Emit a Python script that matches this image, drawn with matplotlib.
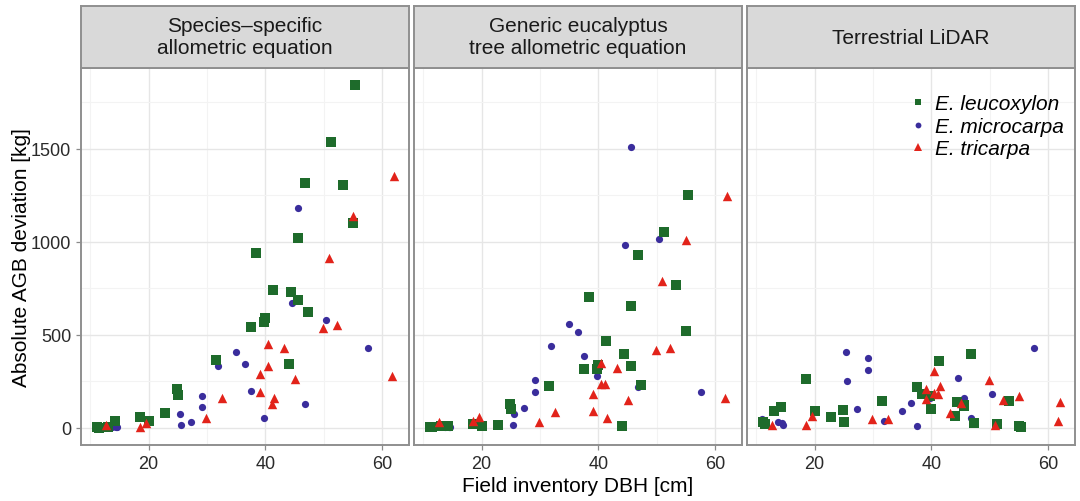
import numpy as np
import matplotlib
matplotlib.use('Agg')
import matplotlib.pyplot as plt
from matplotlib.lines import Line2D

plt.rcParams['font.family'] = ['Liberation Sans', 'DejaVu Sans']

# field inventory DBH [cm] per tree, per species
leuco_dbh = [55.3, 51.2, 46.7, 53.2, 55.0, 45.5, 38.3, 41.3, 44.3, 45.6, 47.3, 40.0, 39.8,
             37.6, 31.6, 44.1, 24.8, 25.0, 22.9, 18.5, 20.0, 14.3, 11.2, 11.5, 13.0]
micro_dbh = [45.6, 44.6, 50.4, 57.5, 35.0, 36.5, 31.8, 37.5, 29.1, 29.1, 46.8, 25.3, 25.6,
             27.3, 39.7, 14.6, 11.0, 11.1, 13.8, 14.4]
tri_dbh = [62.0, 55.0, 50.8, 49.9, 52.2, 40.4, 43.1, 40.5, 39.1, 45.1, 61.7, 39.0, 32.6,
           41.4, 41.2, 29.9, 18.5, 19.6, 12.8]

# absolute AGB deviation [kg]
leuco_species = [1843, 1539, 1316, 1307, 1102, 1023, 941, 743, 732, 690, 622, 589, 569,
                 543, 363, 342, 207, 179, 82, 59, 37, 37, 4, 0, 5]
leuco_generic = [1254, 1052, 932, 769, 521, 658, 704, 465, 395, 332, 229, 338, 317,
                 317, 223, 11, 131, 101, 18, 21, 11, 10, 4, 2, 8]
leuco_lidar = [5, 21, 395, 143, 8, 124, 182, 357, 141, 118, 27, 103, 173,
               218, 142, 63, 98, 30, 57, 264, 93, 114, 34, 20, 93]

micro_species = [1184, 674, 578, 431, 406, 344, 330, 197, 170, 110, 131, 73, 16,
                 34, 55, 4, 3, 2, 6, 5]
micro_generic = [1513, 986, 1016, 195, 558, 516, 441, 388, 257, 195, 222, 14, 74,
                 106, 280, 2, 3, 2, 5, 4]
micro_lidar = [161, 268, 182, 431, 93, 132, 37, 12, 374, 312, 54, 410, 252,
               103, 163, 16, 48, 21, 34, 25]

tri_species = [1355, 1141, 913, 539, 551, 449, 429, 335, 287, 261, 277, 193, 161,
               161, 128, 51, 7, 25, 16]
tri_generic = [1245, 1012, 789, 420, 432, 347, 322, 236, 93, 150, 163, 182, 83,
               54, 236, 30, 35, 60, 34]
tri_lidar = [140, 170, 15, 259, 150, 307, 80, 190, 155, 132, 39, 209, 46,
             227, 182, 48, 18, 66, 14]

panel_titles = ['Species\u2013specific\nallometric equation',
                'Generic eucalyptus\ntree allometric equation',
                'Terrestrial LiDAR']
species_names = ['E. leucoxylon', 'E. microcarpa', 'E. tricarpa']

GREEN = '#1e6b2b'
BLUE = '#3a2d9c'
RED = '#e2231a'
BORDER = '#8f8f8f'


def style_panel(ax, xlim, ylim, show_y):
    ax.set_xlim(xlim)
    ax.set_ylim(ylim)
    ax.set_xticks([20, 40, 60])
    ax.set_xticks([10, 30, 50], minor=True)
    ax.set_yticks([0, 500, 1000, 1500])
    ax.set_yticks([250, 750, 1250, 1750], minor=True)
    ax.grid(which='major', color='#e6e6e6', linewidth=1.0)
    ax.grid(which='minor', color='#f3f3f3', linewidth=0.8)
    ax.set_axisbelow(True)
    for sp in ax.spines.values():
        sp.set_color(BORDER)
        sp.set_linewidth(1.4)
    ax.tick_params(which='major', length=3.5, width=0.9, color='#8a8a8a',
                   labelsize=13, labelcolor='#2a2a2a', pad=3.5)
    ax.tick_params(which='minor', length=0)
    if not show_y:
        ax.tick_params(axis='y', which='major', length=0, labelleft=False)


def main():
    fig = plt.figure(figsize=(10.8, 5.02), dpi=100)
    W, H = 1080, 502
    lefts = [81, 414, 747]
    pw = 328
    top, bottom = 69, 446
    strip_top = 7

    all_x = leuco_dbh + micro_dbh + tri_dbh
    all_y = (leuco_species + leuco_generic + leuco_lidar + micro_species + micro_generic
             + micro_lidar + tri_species + tri_generic + tri_lidar)
    xpad = 0.05 * (max(all_x) - min(all_x))
    ypad = 0.05 * (max(all_y) - min(all_y))
    xlim = (min(all_x) - xpad, max(all_x) + xpad)
    ylim = (min(all_y) - ypad, max(all_y) + ypad)

    panels = [
        (leuco_species, micro_species, tri_species),
        (leuco_generic, micro_generic, tri_generic),
        (leuco_lidar, micro_lidar, tri_lidar),
    ]

    axes = []
    for i, (l, m, t) in enumerate(panels):
        ax = fig.add_axes([lefts[i] / W, (H - bottom) / H, pw / W, (bottom - top) / H])
        style_panel(ax, xlim, ylim, show_y=(i == 0))
        ax.scatter(micro_dbh, m, marker='o', s=27, color=BLUE, linewidths=0, zorder=3)
        ax.scatter(leuco_dbh, l, marker='s', s=42, color=GREEN, linewidths=0, zorder=3)
        ax.scatter(tri_dbh, t, marker='^', s=46, color=RED, linewidths=0, zorder=3)
        axes.append(ax)

        sax = fig.add_axes([lefts[i] / W, (H - top) / H, pw / W, (top - strip_top) / H])
        sax.set_facecolor('#d9d9d9')
        sax.set_xticks([])
        sax.set_yticks([])
        for sp in sax.spines.values():
            sp.set_color(BORDER)
            sp.set_linewidth(1.4)
        sax.text(0.5, 0.5, panel_titles[i], ha='center', va='center', fontsize=15,
                 color='#1a1a1a', linespacing=1.2, transform=sax.transAxes)

    handles = [
        Line2D([], [], marker='s', linestyle='none', color=GREEN, markersize=4.6, markeredgewidth=0),
        Line2D([], [], marker='o', linestyle='none', color=BLUE, markersize=4.2, markeredgewidth=0),
        Line2D([], [], marker='^', linestyle='none', color=RED, markersize=5.2, markeredgewidth=0),
    ]
    axes[2].legend(handles, species_names, loc='upper left', bbox_to_anchor=(0.497, 0.93),
                   frameon=False, prop={'style': 'italic', 'size': 15}, markerscale=1.0,
                   handlelength=0.8, handletextpad=0.4, labelspacing=0.17,
                   borderpad=0, borderaxespad=0)

    fig.text(22 / W, 1 - 257.5 / H, 'Absolute AGB deviation [kg]', rotation=90,
             ha='center', va='center', fontsize=15)
    fig.text(578 / W, 1 - 487 / H, 'Field inventory DBH [cm]',
             ha='center', va='center', fontsize=15)

    fig.savefig('out.png', dpi=100)
    plt.close(fig)


if __name__ == '__main__':
    main()
